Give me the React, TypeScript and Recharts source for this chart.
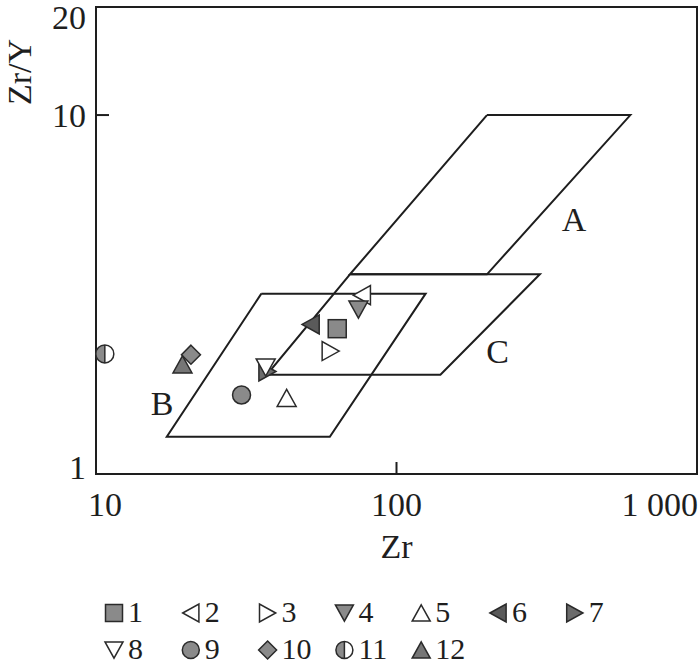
import React from 'react'
import { ScatterChart, Scatter, XAxis, YAxis, ReferenceArea } from 'recharts'

// samples 1-12: Zr (ppm) and Zr/Y
const sampleIds = ['1', '2', '3', '4', '5', '6', '7', '8', '9', '10', '11', '12']
const sampleZr = [63.5, 76.7, 60.4, 74.7, 43.1, 51.8, 37.2, 36.7, 30.5, 20.7, 10.7, 19.4]
const sampleZrY = [2.54, 3.15, 2.2, 2.87, 1.63, 2.61, 1.93, 1.98, 1.66, 2.15, 2.16, 2.02]

// discrimination fields (closed outlines)
const fieldAZr = [200, 600, 200, 70, 200]
const fieldAZrY = [10, 10, 3.6, 3.6, 10]
const fieldBZr = [35.5, 125, 60, 17.2, 35.5]
const fieldBZrY = [3.18, 3.18, 1.27, 1.27, 3.18]
const fieldCZr = [70, 300, 140, 37, 70]
const fieldCZrY = [3.6, 3.6, 1.89, 1.89, 3.6]

const fieldNames = ['A', 'B', 'C']
const fieldLabelZr = [390, 16.6, 217]
const fieldLabelZrY = [5.12, 1.57, 2.19]

const xTicks = [10, 100, 1000]
const xTickLabels = ['10', '100', '1 000']
const yTicks = [1, 10, 20]
const yTickLabels = ['1', '10', '20']

const FONT = "'Liberation Serif', 'Times New Roman', serif"
const INK = '#1e1e1e'
const EDGE = '#2a2a2a'
const GRAY = '#8a8a8a'
const DARK = '#5a5a5a'
const MID = '#6c6c6c'
const WHITE = '#ffffff'

type Kind = 'square' | 'triLeft' | 'triRight' | 'triDown' | 'triUp' | 'circle' | 'diamond' | 'halfCircle'

const markerKinds: Kind[] = [
  'square', 'triLeft', 'triRight', 'triDown', 'triUp', 'triLeft',
  'triRight', 'triDown', 'circle', 'diamond', 'halfCircle', 'triUp',
]
const markerFills = [GRAY, WHITE, WHITE, GRAY, WHITE, DARK, MID, WHITE, GRAY, GRAY, GRAY, '#767676']

const toPoints = (xs: number[], ys: number[]) => xs.map((x, i) => ({ x, y: ys[i] }))

const fields = [
  toPoints(fieldAZr, fieldAZrY),
  toPoints(fieldBZr, fieldBZrY),
  toPoints(fieldCZr, fieldCZrY),
]

interface MarkerProps {
  cx: number
  cy: number
  kind: Kind
  fill: string
  size?: number
}

const Marker: React.FC<MarkerProps> = ({ cx, cy, kind, fill, size = 19 }) => {
  const h = size / 2
  const t = size * 0.45
  const common = { fill, stroke: EDGE, strokeWidth: 1.5 }
  switch (kind) {
    case 'square':
      return <rect x={cx - h + 0.5} y={cy - h + 0.5} width={size - 1} height={size - 1} {...common} />
    case 'circle':
      return <circle cx={cx} cy={cy} r={h - 0.5} {...common} />
    case 'diamond':
      return <polygon points={`${cx},${cy - h} ${cx + h},${cy} ${cx},${cy + h} ${cx - h},${cy}`} {...common} />
    case 'triUp':
      return <polygon points={`${cx},${cy - t} ${cx + h},${cy + t} ${cx - h},${cy + t}`} {...common} />
    case 'triDown':
      return <polygon points={`${cx - h},${cy - t} ${cx + h},${cy - t} ${cx},${cy + t}`} {...common} />
    case 'triLeft':
      return <polygon points={`${cx - t},${cy} ${cx + t},${cy - h} ${cx + t},${cy + h}`} {...common} />
    case 'triRight':
      return <polygon points={`${cx + t},${cy} ${cx - t},${cy - h} ${cx - t},${cy + h}`} {...common} />
    case 'halfCircle': {
      const r = h - 0.5
      return (
        <g>
          <circle cx={cx} cy={cy} r={r} fill={WHITE} />
          <path d={`M${cx},${cy - r} A${r},${r} 0 0 0 ${cx},${cy + r} Z`} fill={fill} />
          <circle cx={cx} cy={cy} r={r} fill="none" stroke={EDGE} strokeWidth={1.5} />
          <line x1={cx} y1={cy - r} x2={cx} y2={cy + r} stroke={EDGE} strokeWidth={1.5} />
        </g>
      )
    }
  }
  return null
}

const XTick = (props: any) => {
  const { x, y, payload } = props
  const i = xTicks.indexOf(payload.value)
  const last = i === xTicks.length - 1
  return (
    <g>
      <line x1={x} y1={y} x2={x} y2={y - 12} stroke={INK} strokeWidth={2} />
      <text
        x={last ? x + 1 : i === 0 ? x + 9 : x}
        y={y + 42}
        textAnchor={last ? 'end' : 'middle'}
        fontSize={34}
        fontFamily={FONT}
        fill={INK}
        style={{ whiteSpace: 'pre' }}
      >
        {xTickLabels[i]}
      </text>
    </g>
  )
}

const YTick = (props: any) => {
  const { x, y, payload } = props
  const i = yTicks.indexOf(payload.value)
  // end labels are pulled inside the frame, as in the source figure
  const shift = i === yTicks.length - 1 ? 10 : i === 0 ? -7 : 0
  const axisX = x + 10
  return (
    <g>
      <line x1={axisX} y1={y} x2={axisX + 13} y2={y} stroke={INK} strokeWidth={2} />
      <text x={x} y={y + shift} dy="0.34em" textAnchor="end" fontSize={34} fontFamily={FONT} fill={INK}>
        {yTickLabels[i]}
      </text>
    </g>
  )
}

const SampleLegend = () => {
  const cols = 7
  return (
    <svg width={700} height={665} style={{ position: 'absolute', left: 0, top: 0, pointerEvents: 'none' }}>
      {sampleIds.map((id, i) => {
        const cx = 114 + (i % cols) * 76.8
        const cy = 613 + Math.floor(i / cols) * 37
        return (
          <g key={id}>
            <Marker cx={cx} cy={cy} kind={markerKinds[i]} fill={markerFills[i]} size={18} />
            <text x={cx + 14} y={cy + 9} fontSize={30} fontFamily={FONT} fill={INK}>
              {id}
            </text>
          </g>
        )
      })}
    </svg>
  )
}

export default function App() {
  return (
    <div style={{ position: 'absolute', left: 0, top: 0, width: 700, height: 665, background: '#fff' }}>
      <ScatterChart width={700} height={665} margin={{ top: 7, right: 3, bottom: 0, left: 0 }}>
        <XAxis
          type="number"
          dataKey="x"
          scale="log"
          domain={[10, 1000]}
          ticks={xTicks}
          interval={0}
          height={191}
          axisLine={false}
          tickLine={false}
          tickSize={0}
          tickMargin={0}
          tick={(p: any) => <XTick {...p} />}
          label={(p: any) => (
            <text
              x={p.viewBox.x + p.viewBox.width / 2}
              y={p.viewBox.y + 84}
              textAnchor="middle"
              fontSize={34}
              fontFamily={FONT}
              fill={INK}
            >
              Zr
            </text>
          )}
        />
        <YAxis
          type="number"
          dataKey="y"
          scale="log"
          domain={[1, 20]}
          ticks={yTicks}
          interval={0}
          width={96}
          axisLine={false}
          tickLine={false}
          tickSize={0}
          tickMargin={10}
          tick={(p: any) => <YTick {...p} />}
          label={(p: any) => {
            const lx = p.viewBox.x + 31
            const ly = p.viewBox.y + 65
            return (
              <text
                x={lx}
                y={ly}
                transform={`rotate(-90 ${lx} ${ly})`}
                textAnchor="middle"
                fontSize={34}
                fontFamily={FONT}
                fill={INK}
              >
                Zr/Y
              </text>
            )
          }}
        />
        <ReferenceArea x1={10} x2={1000} y1={1} y2={20} fill="none" stroke={INK} strokeWidth={2} />
        {fields.map((pts, i) => (
          <Scatter
            key={fieldNames[i]}
            data={pts}
            line={{ stroke: INK, strokeWidth: 2 }}
            fill="none"
            shape={() => <g />}
            isAnimationActive={false}
          />
        ))}
        {sampleIds.map((id, i) => (
          <Scatter
            key={id}
            name={id}
            data={[{ x: sampleZr[i], y: sampleZrY[i] }]}
            isAnimationActive={false}
            shape={(p: any) => <Marker cx={p.cx} cy={p.cy} kind={markerKinds[i]} fill={markerFills[i]} />}
          />
        ))}
        <Scatter
          data={fieldNames.map((label, i) => ({ x: fieldLabelZr[i], y: fieldLabelZrY[i], label }))}
          isAnimationActive={false}
          shape={(p: any) => (
            <text x={p.cx} y={p.cy} dy="0.34em" textAnchor="middle" fontSize={34} fontFamily={FONT} fill={INK}>
              {p.payload.label}
            </text>
          )}
        />
      </ScatterChart>
      <SampleLegend />
    </div>
  )
}
